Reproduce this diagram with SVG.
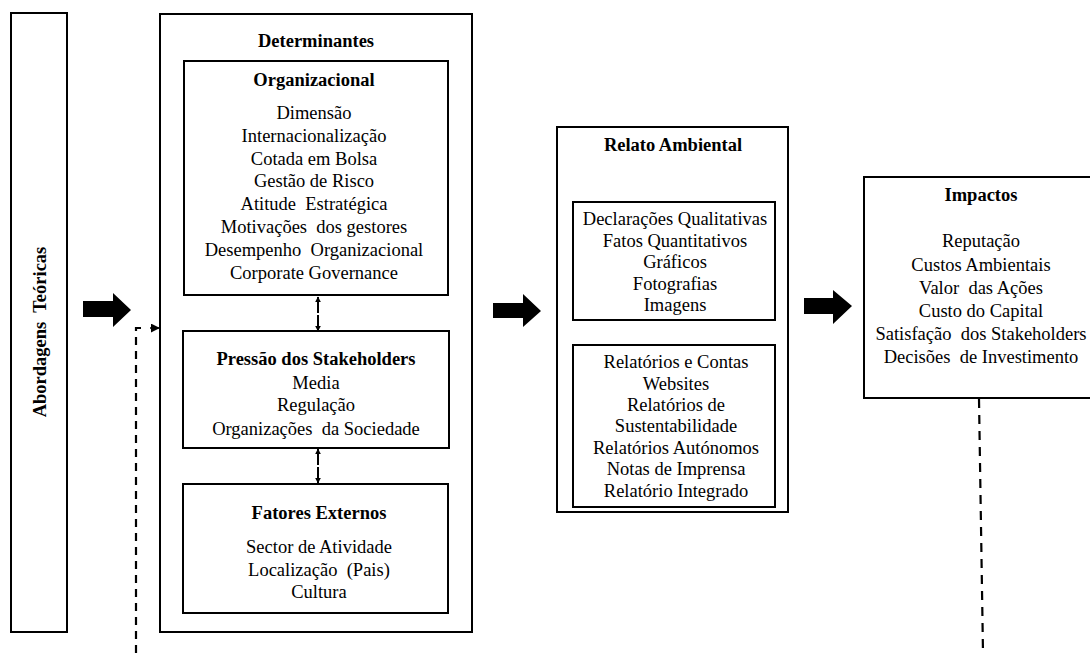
<svg xmlns="http://www.w3.org/2000/svg" width="1090" height="653" viewBox="0 0 1090 653">
<style>
.box{fill:#fff;stroke:#000;stroke-width:2}
.t{font-family:"Liberation Serif","Times New Roman",serif;font-size:18.5px;fill:#000;text-anchor:middle;white-space:pre}
.b{font-weight:bold}
.dash{fill:none;stroke:#000;stroke-width:2.2;stroke-dasharray:8 6}
.sm{fill:none;stroke:#000;stroke-width:2}
</style>
<defs>
<marker id="ah" viewBox="0 0 10 10" refX="9" refY="5" markerWidth="6" markerHeight="6" orient="auto-start-reverse" markerUnits="userSpaceOnUse">
<path d="M0,0 L10,5 L0,10 Z" fill="#000"/>
</marker>
<marker id="ah2" viewBox="0 0 10 10" refX="9" refY="5" markerWidth="9" markerHeight="9" orient="auto" markerUnits="userSpaceOnUse">
<path d="M0,0 L10,5 L0,10 Z" fill="#000"/>
</marker>
</defs>

<g id="abordagens">
<rect class="box" x="11" y="13" width="56" height="619"/>
<text class="t b" transform="translate(46,332) rotate(-90)">Abordagens  Teóricas</text>
</g>

<g id="determinantes">
<rect class="box" x="160" y="14" width="312" height="618"/>
<text class="t b" x="316" y="47">Determinantes</text>
</g>

<g id="organizacional">
<rect class="box" x="184" y="61" width="264" height="234"/>
<text class="t b" x="314" y="86">Organizacional</text>
<text class="t" x="314" y="119">Dimensão</text>
<text class="t" x="314" y="142">Internacionalização</text>
<text class="t" x="314" y="165">Cotada em Bolsa</text>
<text class="t" x="314" y="187">Gestão de Risco</text>
<text class="t" x="314" y="210">Atitude  Estratégica</text>
<text class="t" x="314" y="233">Motivações  dos gestores</text>
<text class="t" x="314" y="256">Desempenho  Organizacional</text>
<text class="t" x="314" y="279">Corporate Governance</text>
</g>

<g id="pressao">
<rect class="box" x="183" y="331" width="266" height="117"/>
<text class="t b" x="316" y="365">Pressão dos Stakeholders</text>
<text class="t" x="316" y="389">Media</text>
<text class="t" x="316" y="411">Regulação</text>
<text class="t" x="316" y="435">Organizações  da Sociedade</text>
</g>

<g id="fatores">
<rect class="box" x="183" y="484" width="265" height="129"/>
<text class="t b" x="319" y="519">Fatores Externos</text>
<text class="t" x="319" y="553">Sector de Atividade</text>
<text class="t" x="319" y="576">Localização  (Pais)</text>
<text class="t" x="319" y="598">Cultura</text>
</g>

<g id="relato">
<rect class="box" x="557" y="127" width="231" height="385"/>
<text class="t b" x="673" y="151">Relato Ambiental</text>
</g>

<g id="formatos">
<rect class="box" x="573" y="202" width="202" height="118"/>
<text class="t" x="675" y="225">Declarações Qualitativas</text>
<text class="t" x="675" y="247">Fatos Quantitativos</text>
<text class="t" x="675" y="268">Gráficos</text>
<text class="t" x="675" y="290">Fotografias</text>
<text class="t" x="675" y="311">Imagens</text>
</g>

<g id="meios">
<rect class="box" x="573" y="345" width="202" height="162"/>
<text class="t" x="676" y="368">Relatórios e Contas</text>
<text class="t" x="676" y="390">Websites</text>
<text class="t" x="676" y="411">Relatórios de</text>
<text class="t" x="676" y="432">Sustentabilidade</text>
<text class="t" x="676" y="454">Relatórios Autónomos</text>
<text class="t" x="676" y="475">Notas de Imprensa</text>
<text class="t" x="676" y="497">Relatório Integrado</text>
</g>

<g id="impactos">
<rect class="box" x="864" y="177" width="240" height="221"/>
<text class="t b" x="981" y="201">Impactos</text>
<text class="t" x="981" y="247">Reputação</text>
<text class="t" x="981" y="271">Custos Ambientais</text>
<text class="t" x="981" y="294">Valor  das Ações</text>
<text class="t" x="981" y="317">Custo do Capital</text>
<text class="t" x="981" y="340">Satisfação  dos Stakeholders</text>
<text class="t" x="981" y="363">Decisões  de Investimento</text>
</g>

<g id="connectors">
<path d="M83,301 H113 V293 L131,310 L113,327 V317 H83 Z" fill="#000"/>
<path d="M493,303 H523 V294 L541,311 L523,327 V318 H493 Z" fill="#000"/>
<path d="M804,298 H833 V290 L852,306 L833,324 V314 H804 Z" fill="#000"/>
<line class="sm" x1="318" y1="313" x2="318" y2="297" marker-end="url(#ah)"/>
<line class="sm" x1="318" y1="315" x2="318" y2="331" marker-end="url(#ah)"/>
<line class="sm" x1="318" y1="465" x2="318" y2="449" marker-end="url(#ah)"/>
<line class="sm" x1="318" y1="467" x2="318" y2="483" marker-end="url(#ah)"/>
<path class="dash" d="M136,653 V328 H146"/>
<line x1="150" y1="328" x2="159" y2="328" stroke="#000" stroke-width="1.5" marker-end="url(#ah2)"/>
<path class="dash" d="M979,399 L983,653" style="stroke-dasharray:9 7"/>
</g>
</svg>
